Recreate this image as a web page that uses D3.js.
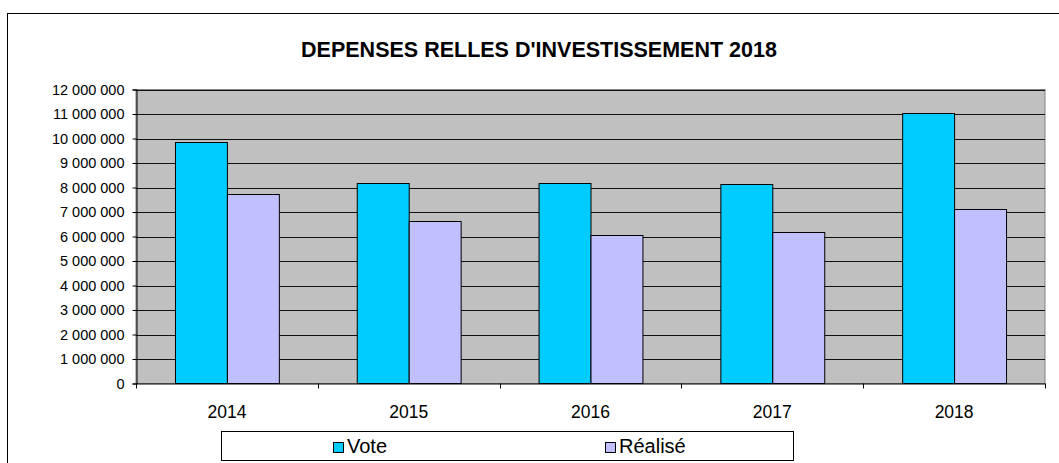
<!DOCTYPE html>
<html>
<head>
<meta charset="utf-8">
<script src="https://cdn.jsdelivr.net/npm/d3@7"></script>
<style>
  body { margin: 0; background: #fff; }
  text { font-family: "Liberation Sans", Arial, sans-serif; fill: #000; }
</style>
</head>
<body>
<div id="chart"></div>
<script>
'use strict';

const years = ["2014", "2015", "2016", "2017", "2018"];
const seriesNames = ["Vote", "Réalisé"];
const voteValues = [9850000, 8170000, 8180000, 8130000, 11030000];
const realiseValues = [7730000, 6650000, 6060000, 6200000, 7110000];
const yTicks = [0, 1e6, 2e6, 3e6, 4e6, 5e6, 6e6, 7e6, 8e6, 9e6, 10e6, 11e6, 12e6];
const titleText = "DEPENSES RELLES D'INVESTISSEMENT 2018";

const msm = {
  width: 1059,
  height: 463,
  plotLeft: 136,
  plotRight: 1045,
  plotTop: 89.5,
  plotBottom: 383.5
};

const colors = { "Vote": "#00ccff", "Réalisé": "#c0c0ff" };

const frLocale = d3.formatLocale({ decimal: ",", thousands: " ", grouping: [3], currency: ["", ""] });
const fmt = frLocale.format(",.0f");

window.onload = function() {
  const svg = d3.select('#chart')
    .append('svg')
    .attr('width', msm.width)
    .attr('height', msm.height);

  // outer chart frame (runs past the picture on the right and bottom)
  svg.append('rect')
    .attr('x', 7.5).attr('y', 13.5)
    .attr('width', 1100).attr('height', 500)
    .attr('fill', 'none').attr('stroke', '#000');

  svg.append('text')
    .attr('x', 539).attr('y', 56.5)
    .attr('text-anchor', 'middle')
    .style('font-size', '21.5px')
    .style('font-weight', 'bold')
    .text(titleText);

  let x0 = d3.scaleBand()
    .domain(years)
    .range([msm.plotLeft, msm.plotRight])
    .paddingInner(1.5 / 3.5)
    .paddingOuter(0.75 / 3.5);

  let x1 = d3.scaleBand()
    .domain(seriesNames)
    .range([0, x0.bandwidth()]);

  let yScale = d3.scaleLinear()
    .domain([0, 12e6])
    .range([msm.plotBottom, msm.plotTop]);

  // plot area
  svg.append('rect')
    .attr('x', msm.plotLeft).attr('y', msm.plotTop)
    .attr('width', msm.plotRight - msm.plotLeft)
    .attr('height', msm.plotBottom - msm.plotTop)
    .attr('fill', '#c0c0c0')
    .attr('stroke', '#808080');

  // gridlines
  svg.append('g')
    .selectAll('line')
    .data(yTicks.slice(1))
    .enter()
    .append('line')
      .attr('x1', msm.plotLeft).attr('x2', msm.plotRight)
      .attr('y1', (d) => Math.round(yScale(d)) + 0.5)
      .attr('y2', (d) => Math.round(yScale(d)) + 0.5)
      .attr('stroke', '#111')
      .attr('stroke-width', 1);

  // bars
  let tableData = years.map((y, i) => ({ year: y, values: [
    { name: "Vote", value: voteValues[i] },
    { name: "Réalisé", value: realiseValues[i] }
  ]}));

  svg.append('g')
    .selectAll('g')
    .data(tableData)
    .enter()
    .append('g')
      .attr('transform', (d) => 'translate(' + x0(d.year) + ',0)')
    .selectAll('rect')
    .data((d) => d.values)
    .enter()
    .append('rect')
      .attr('x', (d) => x1(d.name) + 0.5)
      .attr('y', (d) => Math.round(yScale(d.value)) + 0.5)
      .attr('width', x1.bandwidth())
      .attr('height', (d) => msm.plotBottom - Math.round(yScale(d.value)) - 0.5)
      .attr('fill', (d) => colors[d.name])
      .attr('stroke', '#000')
      .attr('stroke-width', 1);

  // y axis
  let yAxis = d3.axisLeft(yScale)
    .tickValues(yTicks)
    .tickSize(4)
    .tickPadding(8)
    .tickFormat((d) => fmt(d));
  let gy = svg.append('g')
    .attr('transform', 'translate(' + (msm.plotLeft + 0.5) + ',0)')
    .call(yAxis);
  gy.selectAll('text').style('font-size', '14.5px').attr('fill', '#000');
  gy.selectAll('line').attr('stroke', '#000');
  gy.select('.domain').attr('stroke', '#000');

  // x axis: ticks on category boundaries
  let xAxis = d3.axisBottom(x0).tickSize(0).tickPadding(22);
  let gx = svg.append('g')
    .attr('transform', 'translate(0,' + msm.plotBottom + ')')
    .call(xAxis);
  gx.select('.domain').attr('stroke', '#000')
    .attr('d', 'M' + msm.plotLeft + ',0.5H' + msm.plotRight);
  gx.selectAll('text').style('font-size', '17.5px').attr('fill', '#000');
  let boundaries = years.map((y) => x0(y) - x0.step() * x0.paddingInner() / 2).concat([msm.plotRight]);
  gx.selectAll('.bound')
    .data(boundaries)
    .enter()
    .append('line')
      .attr('class', 'bound')
      .attr('x1', (d) => Math.round(d) + 0.5).attr('x2', (d) => Math.round(d) + 0.5)
      .attr('y1', 0).attr('y2', 5)
      .attr('stroke', '#000');

  // legend
  let legend = svg.append('g');
  legend.append('rect')
    .attr('x', 221.5).attr('y', 431.5)
    .attr('width', 572).attr('height', 29)
    .attr('fill', '#fff').attr('stroke', '#000');
  let legendX = [333, 605];
  let items = legend.selectAll('.item')
    .data(seriesNames)
    .enter()
    .append('g')
      .attr('transform', (d, i) => 'translate(' + legendX[i] + ',442)');
  items.append('rect')
    .attr('x', 0.5).attr('y', 0.5)
    .attr('width', 10).attr('height', 10)
    .attr('fill', (d) => colors[d])
    .attr('stroke', '#000');
  items.append('text')
    .attr('x', 14).attr('y', 11)
    .style('font-size', '20px')
    .text((d) => d);
}
</script>
</body>
</html>
